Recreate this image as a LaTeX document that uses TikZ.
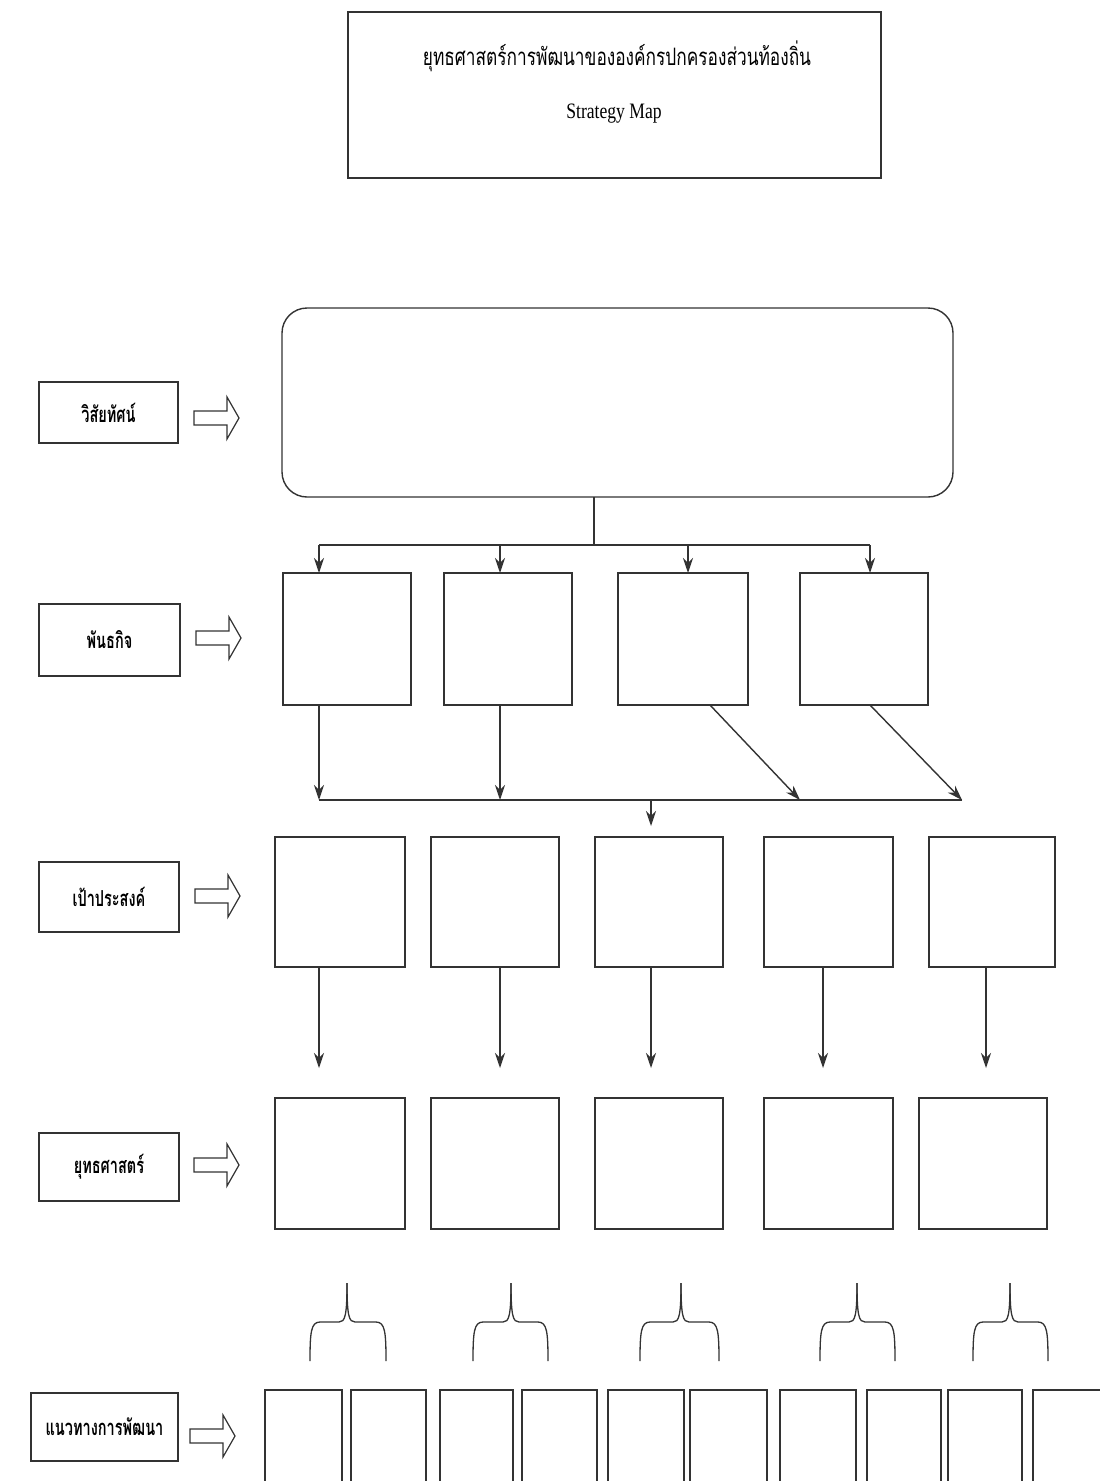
\documentclass[tikz,border=0pt]{standalone}
\usepackage{fontspec}
\usepackage{graphicx}
\setmainfont{Liberation Serif}
\newfontfamily\thaifont[Script=Thai]{Loma}
\usetikzlibrary{arrows.meta,fit}
\definecolor{ink}{HTML}{333333}
\newcommand{\thlabel}[2][0.66]{\scalebox{#1}[1]{\thaifont\fontsize{22pt}{26pt}\selectfont #2}}
\tikzset{
  pics/hollowarrow/.style={code={
    \draw[draw=ink, line width=1.2pt, line join=miter]
      (0,-7) -- (33,-7) -- (33,-21) -- (45,0) -- (33,21) -- (33,7) -- (0,7) -- cycle;}}
}
\begin{document}
\begin{tikzpicture}[x=1pt,y=-1pt,
  line/.style={draw=ink, line width=1.4pt},
  box/.style={line, inner sep=0pt, outer sep=0pt},
  arr/.style={line, -{Stealth[length=15pt,width=10pt]}},
  bracestyle/.style={draw=ink, line width=1.3pt}]
\useasboundingbox[fill=white] (0,0) rectangle (1100,1481);

% title
\node[box, fit={(348,12)(881,178)}] (title) {};
\node (titleth) at (617,56) {\thlabel[0.72]{\fontsize{24pt}{28pt}\selectfont ยุทธศาสตร์การพัฒนาขององค์กรปกครองส่วนท้องถิ่น}};
\node (titleen) at (614,114) {\scalebox{0.8}[1]{\fontsize{22pt}{26pt}\selectfont Strategy Map}};

% left labels
\node[box, fit={(39,382)(178,443)}] (lb1) {};
\node at (lb1.center) {\thlabel{\bfseries วิสัยทัศน์}};
\node[box, fit={(39,604)(180,676)}] (lb2) {};
\node at (lb2.center) {\thlabel{\bfseries พันธกิจ}};
\node[box, fit={(39,862)(179,932)}] (lb3) {};
\node at (lb3.center) {\thlabel{\bfseries เป้าประสงค์}};
\node[box, fit={(39,1133)(179,1201)}] (lb4) {};
\node at (lb4.center) {\thlabel{\bfseries ยุทธศาสตร์}};
\node[box, fit={(31,1393)(178,1461)}] (lb5) {};
\node at (lb5.center) {\thlabel{\bfseries แนวทางการพัฒนา}};

% hollow arrows
\pic at (194,418) {hollowarrow};
\pic at (196,638) {hollowarrow};
\pic at (195,896) {hollowarrow};
\pic at (194,1165) {hollowarrow};
\pic at (190,1436) {hollowarrow};

% vision
\node[box, rounded corners=25pt, fit={(282,308)(953,497)}] (vision) {};

% missions
\node[box, fit={(283,573)(411,705)}] (m1) {};
\node[box, fit={(444,573)(572,705)}] (m2) {};
\node[box, fit={(618,573)(748,705)}] (m3) {};
\node[box, fit={(800,573)(928,705)}] (m4) {};

\coordinate (vj) at (594,545);
\coordinate (b1) at (319,545);
\coordinate (b2) at (500,545);
\coordinate (b3) at (688,545);
\coordinate (b4) at (870,545);
\draw[line] (vj |- vision.south) -- (vj);
\draw[line] (b1) -- (b4);
\draw[arr] (b1) -- (b1 |- m1.north);
\draw[arr] (b2) -- (b2 |- m2.north);
\draw[arr] (b3) -- (b3 |- m3.north);
\draw[arr] (b4) -- (b4 |- m4.north);

% mission to goals bus
\coordinate (c1) at (319,800);
\coordinate (c2) at (500,800);
\coordinate (c3) at (800,800);
\coordinate (c4) at (962,800);
\coordinate (d3) at (710,705);
\coordinate (d4) at (870,705);
\coordinate (cj) at (651,800);
\coordinate (cje) at (651,826);
\draw[line] (c1) -- (c4);
\draw[arr] (c1 |- m1.south) -- (c1);
\draw[arr] (c2 |- m2.south) -- (c2);
\draw[arr] (d3 |- m3.south) -- (c3);
\draw[arr] (d4 |- m4.south) -- (c4);
\draw[arr] (cj) -- (cje);

% goals
\node[box, fit={(275,837)(405,967)}] (g1) {};
\node[box, fit={(431,837)(559,967)}] (g2) {};
\node[box, fit={(595,837)(723,967)}] (g3) {};
\node[box, fit={(764,837)(893,967)}] (g4) {};
\node[box, fit={(929,837)(1055,967)}] (g5) {};

% strategies
\node[box, fit={(275,1098)(405,1229)}] (s1) {};
\node[box, fit={(431,1098)(559,1229)}] (s2) {};
\node[box, fit={(595,1098)(723,1229)}] (s3) {};
\node[box, fit={(764,1098)(893,1229)}] (s4) {};
\node[box, fit={(919,1098)(1047,1229)}] (s5) {};

\coordinate (e1) at (319,1068);
\coordinate (e2) at (500,1068);
\coordinate (e3) at (651,1068);
\coordinate (e4) at (823,1068);
\coordinate (e5) at (986,1068);
\draw[arr] (e1 |- g1.south) -- (e1);
\draw[arr] (e2 |- g2.south) -- (e2);
\draw[arr] (e3 |- g3.south) -- (e3);
\draw[arr] (e4 |- g4.south) -- (e4);
\draw[arr] (e5 |- g5.south) -- (e5);

% braces
\foreach \L/\C/\R in {310/347/386, 473/511/548, 640/681/719, 820/857/895, 973/1010/1048} {
  \draw[bracestyle] (\L,1361) .. controls (\L,1332) and (\L+1,1322) .. (\L+10,1322)
    -- (\C-8,1322) .. controls (\C-2,1322) and (\C,1316) .. (\C,1283);
  \draw[bracestyle] (\C,1283) .. controls (\C,1316) and (\C+2,1322) .. (\C+8,1322)
    -- (\R-10,1322) .. controls (\R-1,1322) and (\R,1332) .. (\R,1361);
}

% development guideline boxes (cut by page bottom)
\node[box, fit={(265,1390)(342,1492)}] (p1) {};
\node[box, fit={(351,1390)(426,1492)}] (p2) {};
\node[box, fit={(440,1390)(513,1492)}] (p3) {};
\node[box, fit={(522,1390)(597,1492)}] (p4) {};
\node[box, fit={(608,1390)(684,1492)}] (p5) {};
\node[box, fit={(690,1390)(767,1492)}] (p6) {};
\node[box, fit={(780,1390)(856,1492)}] (p7) {};
\node[box, fit={(867,1390)(941,1492)}] (p8) {};
\node[box, fit={(948,1390)(1022,1492)}] (p9) {};
\node[box, fit={(1033,1390)(1112,1492)}] (p10) {};
\end{tikzpicture}
\end{document}
